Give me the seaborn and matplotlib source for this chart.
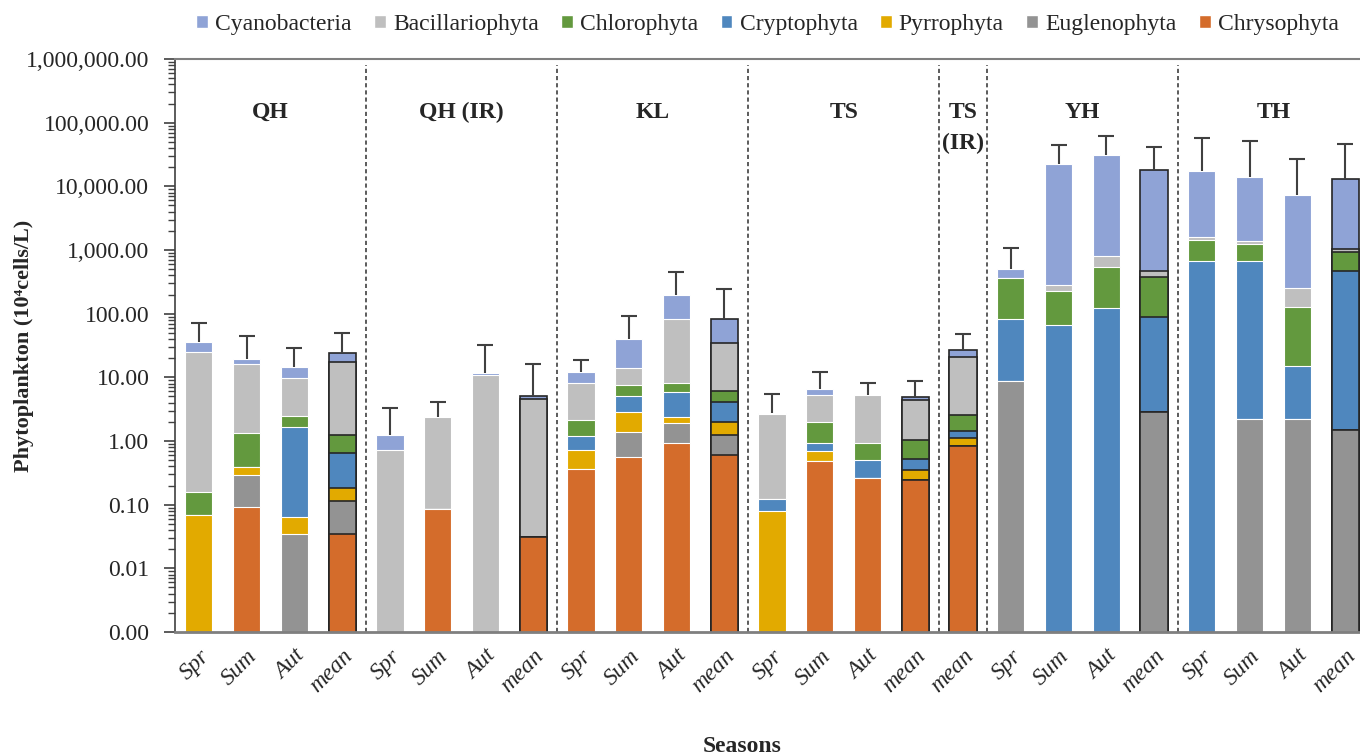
import numpy as np
import pandas as pd
import matplotlib.pyplot as plt
import seaborn as sns
from matplotlib.patches import Patch
from matplotlib.ticker import FuncFormatter, LogLocator
from matplotlib.transforms import blended_transform_factory

# 1. Bars: sites and seasons
bar_site = ["QH"] * 4 + ["QH (IR)"] * 4 + ["KL"] * 4 + ["TS"] * 4 + ["TS (IR)"] + ["YH"] * 4 + ["TH"] * 4
bar_season = ["Spr", "Sum", "Aut", "mean"] * 4 + ["mean"] + ["Spr", "Sum", "Aut", "mean"] * 2
bar_id = [f"{s}|{t}" for s, t in zip(bar_site, bar_season)]

# 2. Abundance of each phylum (10^4 cells/L), stacked bottom to top
chrysophyta = [0, 0.093, 0, 0.034, 0, 0.087, 0, 0.031, 0.367, 0.555, 0.918, 0.603,
               0, 0.48, 0.262, 0.247, 0.834, 0, 0, 0, 0, 0, 0, 0, 0]
euglenophyta = [0, 0.199, 0.034, 0.081, 0, 0, 0, 0, 0, 0.815, 1.0, 0.63,
                0, 0, 0, 0, 0, 8.75, 0, 0, 2.85, 0, 2.19, 2.19, 1.47]
pyrrophyta = [0.069, 0.094, 0.031, 0.066, 0, 0, 0, 0, 0.347, 1.51, 0.44, 0.76,
              0.079, 0.217, 0, 0.107, 0.266, 0, 0, 0, 0, 0, 0, 0, 0]
cryptophyta = [0, 0, 1.60, 0.474, 0, 0, 0, 0, 0.50, 2.21, 3.59, 2.15,
               0.042, 0.22, 0.236, 0.161, 0.32, 72.7, 65.6, 124, 86.8, 679, 669, 13.0, 460]
chlorophyta = [0.087, 0.93, 0.78, 0.575, 0, 0, 0, 0, 0.90, 2.57, 2.29, 1.96,
               0, 1.07, 0.42, 0.52, 1.11, 281, 158, 422, 286, 756, 557, 112, 467]
bacillariophyta = [25.0, 14.9, 7.2, 16.2, 0.714, 2.32, 10.8, 4.49, 5.94, 6.5, 75.2, 28.5,
                   2.53, 3.29, 4.33, 3.36, 18.1, 0, 61, 267, 97, 147, 156, 123, 118]
cyanobacteria = [10.3, 3.4, 4.76, 6.4, 0.53, 0, 1.0, 0.6, 3.95, 26.2, 113, 48.8,
                 0.13, 1.35, 0, 0.56, 6.6, 140, 22365, 30230, 17560, 16010, 12460, 7130, 11980]
error_up = [35, 25.5, 14.2, 26.4, 2.0, 1.73, 20.4, 11.3, 6.9, 52.5, 250, 164,
            2.75, 5.4, 2.9, 3.8, 21, 583, 22430, 31300, 23850, 39800, 37700, 19170, 33190]

phyla = ["Chrysophyta", "Euglenophyta", "Pyrrophyta", "Cryptophyta",
         "Chlorophyta", "Bacillariophyta", "Cyanobacteria"]
colors = ["#D46C2B", "#939393", "#E2AA00", "#4F87BE", "#63993E", "#BFBFBF", "#8FA3D6"]
values = np.array([chrysophyta, euglenophyta, pyrrophyta, cryptophyta,
                   chlorophyta, bacillariophyta, cyanobacteria])
cum = np.cumsum(values, axis=0)

sns.set_style("ticks")
plt.rcParams['font.family'] = ['Liberation Serif', 'DejaVu Serif']

fig = plt.figure(figsize=(13.6, 7.56), dpi=100)
ax = fig.add_axes([175 / 1360, 124 / 756, 1194 / 1360, 573 / 756])
ax.set_yscale("log")

# 3. Stacked bars: draw cumulative totals from the top layer down
for i in range(len(phyla) - 1, -1, -1):
    df = pd.DataFrame({"bar": bar_id, "cum": cum[i]})
    df = df[df["cum"] > 0]
    sns.barplot(data=df, x="bar", y="cum", order=bar_id, color=colors[i],
                saturation=1, width=0.57, errorbar=None, ax=ax)

for p in ax.patches:
    idx = int(round(p.get_x() + p.get_width() / 2))
    if bar_season[idx] == "mean":
        p.set_edgecolor("#262626")
        p.set_linewidth(1.2)
    else:
        p.set_edgecolor("white")
        p.set_linewidth(0.8)

# 4. Upper error bars only (drop the lower cap)
total = cum[-1]
_, caps, _ = ax.errorbar(np.arange(len(bar_id)), total, yerr=[np.zeros(len(total)), error_up],
                         fmt="none", ecolor="#404040", elinewidth=1.5, capsize=6,
                         capthick=1.5, zorder=3)
caps[0].remove()

# 5. Site separators and labels
for xd in [3.5, 7.5, 11.5, 15.5, 16.5, 20.5]:
    ax.axvline(xd, ymin=0, ymax=0.99, color="#404040", linestyle=(0, (2.5, 1.8)), linewidth=1.2)

trans = blended_transform_factory(ax.transData, ax.transAxes)
site_pos = {"QH": 1.5, "QH (IR)": 5.5, "KL": 9.5, "TS": 13.5, "YH": 18.5, "TH": 22.5}
for name, xc in site_pos.items():
    ax.text(xc, 0.9075, name, transform=trans, ha="center", va="center",
            fontsize=17, fontweight="bold")
ax.text(16, 0.9075, "TS", transform=trans, ha="center", va="center", fontsize=17, fontweight="bold")
ax.text(16, 0.853, "(IR)", transform=trans, ha="center", va="center", fontsize=17, fontweight="bold")

# 6. Axes styling
ax.set_ylim(1e-3, 1e6)
ax.set_xlim(-0.5, len(bar_id) - 0.5)
ax.yaxis.set_major_locator(LogLocator(base=10, numticks=15))
ax.yaxis.set_minor_locator(LogLocator(base=10, subs=np.arange(2, 10), numticks=15))
ax.yaxis.set_major_formatter(FuncFormatter(lambda v, p: f"{v:,.2f}"))
ax.tick_params(axis="y", which="major", length=8, width=1.2, pad=10.5, labelsize=17, color="#404040")
ax.tick_params(axis="y", which="minor", length=5, width=1, color="#404040")
ax.set_xticks(range(len(bar_id)))
ax.set_xticklabels(bar_season, rotation=45, ha="right", va="top", rotation_mode="anchor",
                   fontstyle="italic", fontsize=17)
ax.tick_params(axis="x", length=0, pad=10)

ax.spines["right"].set_visible(False)
ax.spines["top"].set_color("#7f7f7f")
ax.spines["top"].set_linewidth(1.5)
ax.spines["bottom"].set_color("#7f7f7f")
ax.spines["bottom"].set_linewidth(2)
ax.spines["left"].set_color("#404040")
ax.spines["left"].set_linewidth(1.2)

ax.set_ylabel("Phytoplankton (10⁴cells/L)", fontsize=16, fontweight="bold")
ax.yaxis.set_label_coords(-0.118, 0.5)
ax.set_xlabel("Seasons", fontsize=17, fontweight="bold")
ax.xaxis.set_label_coords(0.475, -0.182)

# 7. Legend
handles = [Patch(facecolor=c, label=n) for n, c in zip(phyla[::-1], colors[::-1])]
fig.legend(handles=handles, loc="center", bbox_to_anchor=(0.5643, 0.968), ncol=7,
           frameon=False, fontsize=17, handlelength=0.5, handleheight=0.5,
           handletextpad=0.3, columnspacing=0.95)

fig.savefig("out.png", dpi=100)
